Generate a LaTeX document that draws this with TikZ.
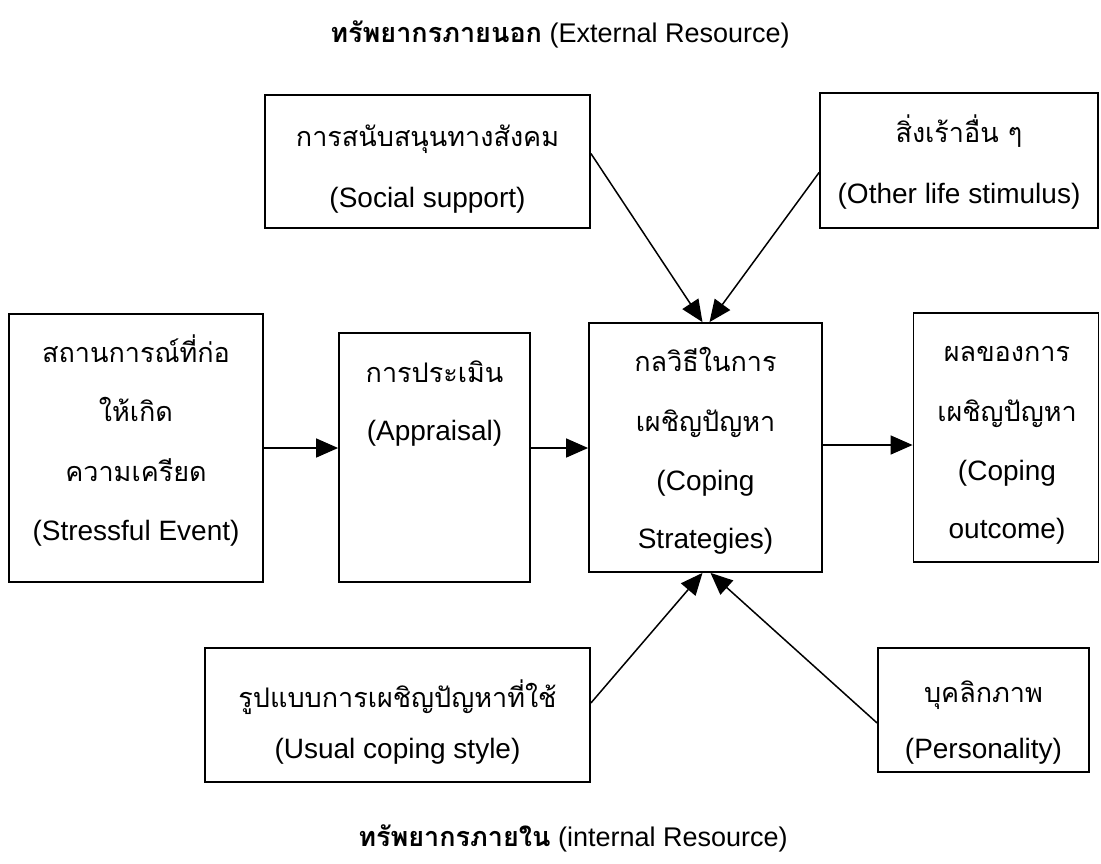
\documentclass[tikz,border=0pt]{standalone}
\usepackage{fontspec}
\setmainfont{Liberation Sans}
\newfontfamily\thai[Script=Thai]{Loma}
\usetikzlibrary{arrows.meta,calc}
\begin{document}
\begin{tikzpicture}[x=1pt,y=-1pt,
  box/.style={draw, line width=1.8pt, rectangle, inner sep=0pt},
  en/.style={anchor=base, inner sep=0pt, font=\fontsize{28}{34}\selectfont},
  th/.style={anchor=base, inner sep=0pt, font=\thai\fontsize{27}{34}\selectfont},
  ttl/.style={anchor=base, inner sep=0pt, font=\fontsize{27}{34}\selectfont},
  arr/.style={line width=1.5pt, -{Triangle[length=22pt,width=19pt]}}]
\useasboundingbox (0,0) rectangle (1101,863);

% titles
\node[ttl] (ttop) at (560,42) {{\thai\bfseries ทรัพยากรภายนอก} (External Resource)};
\node[ttl] (tbot) at (573,846) {{\thai\bfseries ทรัพยากรภายใน} (internal Resource)};

% boxes
\node[box, minimum width=325pt, minimum height=133pt] (soc) at (427.5,161.5) {};
\node[box, minimum width=278pt, minimum height=135pt] (oth) at (959,160.5) {};
\node[box, minimum width=254pt, minimum height=268pt] (str) at (136,448) {};
\node[box, minimum width=191pt, minimum height=249pt] (app) at (434.5,457.5) {};
\node[box, minimum width=233pt, minimum height=249pt] (cop) at (705.5,447.5) {};
\node[box, minimum width=185pt, minimum height=249pt] (out) at (1006,437.5) {};
\node[box, minimum width=385pt, minimum height=134pt] (usu) at (397.5,715) {};
\node[box, minimum width=211pt, minimum height=124pt] (per) at (983.5,710) {};

% texts
\node[th] (soc1) at (427.5,146) {การสนับสนุนทางสังคม};
\node[en] (soc2) at (427.5,207) {(Social support)};
\node[th] (oth1) at (959,142) {สิ่งเร้าอื่น ๆ};
\node[en] (oth2) at (959,203) {(Other life stimulus)};
\node[th] (str1) at (136,362) {สถานการณ์ที่ก่อ};
\node[th] (str2) at (136,421) {ให้เกิด};
\node[th] (str3) at (136,481) {ความเครียด};
\node[en] (str4) at (136,540) {(Stressful Event)};
\node[th] (app1) at (434.5,382) {การประเมิน};
\node[en] (app2) at (434.5,440) {(Appraisal)};
\node[th] (cop1) at (705.5,371) {กลวิธีในการ};
\node[th] (cop2) at (705.5,431) {เผชิญปัญหา};
\node[en] (cop3) at (705.5,490) {(Coping};
\node[en] (cop4) at (705.5,548) {Strategies)};
\node[th] (out1) at (1007,361) {ผลของการ};
\node[th] (out2) at (1007,421) {เผชิญปัญหา};
\node[en] (out3) at (1007,480) {(Coping};
\node[en] (out4) at (1007,538) {outcome)};
\node[th] (usu1) at (397.5,707) {รูปแบบการเผชิญปัญหาที่ใช้};
\node[en] (usu2) at (397.5,758) {(Usual coping style)};
\node[th] (per1) at (983.5,702) {บุคลิกภาพ};
\node[en] (per2) at (983.5,758) {(Personality)};

% connector end points
\coordinate (ctl) at ($(cop.north)+(-3,0)$);
\coordinate (ctr) at ($(cop.north)+(4,0)$);
\coordinate (cbl) at ($(cop.south)+(-3,0)$);
\coordinate (cbr) at ($(cop.south)+(5,0)$);

% arrows
\draw[arr] (str.east |- 0,448) -- (app.west |- 0,448);
\draw[arr] (app.east |- 0,448) -- (cop.west |- 0,448);
\draw[arr] (cop.east |- 0,445) -- (out.west |- 0,445);
\draw[arr] ($(soc.east)+(0,-8)$) -- (ctl);
\draw[arr] ($(oth.west)+(0,12)$) -- (ctr);
\draw[arr] ($(usu.east)+(0,-12)$) -- (cbl);
\draw[arr] ($(per.west)+(0,13)$) -- (cbr);
\end{tikzpicture}
\end{document}
